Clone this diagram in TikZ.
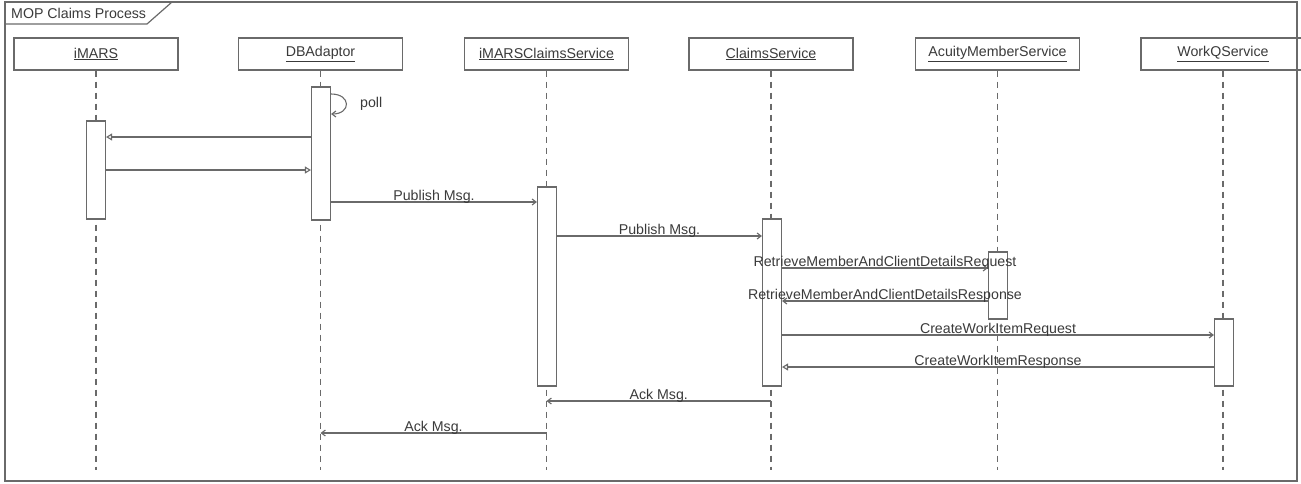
\documentclass[tikz,border=0pt]{standalone}
\usepackage{fontspec}
\setmainfont{Liberation Sans}
\usetikzlibrary{arrows.meta}
\definecolor{ln}{HTML}{6A6A6A}
\definecolor{tx}{HTML}{3A3A3A}
\begin{document}
\begin{tikzpicture}[x=1pt,y=-1pt,
  font=\fontsize{14.2}{16}\selectfont,
  every node/.style={text=tx},
  head/.style={draw=ln, line width=1.2pt, minimum width=164pt, minimum height=32pt, inner sep=0pt},
  actbar/.style={draw=ln, line width=1.1pt, fill=white, minimum width=19pt, inner sep=0pt},
  life/.style={draw=ln, line width=1.1pt, dash pattern=on 6pt off 5pt},
  msg/.style={draw=ln, line width=1.1pt, -{Straight Barb[length=4pt,width=6pt]}},
  reply/.style={draw=ln, line width=1.1pt, -{Triangle[open,length=6pt,width=7pt]}},
  lbl/.style={anchor=base, yshift=1.5pt, inner sep=0pt}]
\useasboundingbox (0,0) rectangle (1301,483);

% frame with its name tag
\draw[ln, line width=1.2pt] (5,2) rectangle (1297,481);
\draw[ln, line width=1.2pt] (5,24) -- (147,24) -- (172,2);
\node[anchor=west, inner sep=0pt] (title) at (11,13) {MOP Claims Process};

% lifeline heads
\node[head] (imars)  at (96,54)   {\underline{iMARS}};
\node[head] (dba)    at (320.5,54) {\underline{DBAdaptor}};
\node[head] (ics)    at (546.5,54) {\underline{iMARSClaimsService}};
\node[head] (cls)    at (771,54)  {\underline{ClaimsService}};
\node[head] (ams)    at (997.5,54) {\underline{AcuityMemberService}};
\node[head] (wqs)    at (1223,54) {\underline{WorkQService}};

% dashed lifelines
\foreach \h in {imars,dba,ics,cls,ams,wqs}
  \draw[life] (\h.south) -- (\h |- 0,470);

% activation bars
\node[actbar, minimum height=98pt]  (a1) at (96,170)    {};
\node[actbar, minimum height=133pt] (a2) at (321,153.5) {};
\node[actbar, minimum height=199pt] (a3) at (547,286.5) {};
\node[actbar, minimum height=167pt] (a4) at (772,302.5) {};
\node[actbar, minimum height=67pt]  (a5) at (998,285.5) {};
\node[actbar, minimum height=67pt]  (a6) at (1224,352.5){};

% self call
\draw[msg] (a2.east |- 0,94) to[out=0, in=0, looseness=2.6] (a2.east |- 0,114);
\node[anchor=west, inner sep=0pt] (poll) at (360,104) {poll};

% messages
\draw[reply] (a2.west |- 0,137) -- (a1.east |- 0,137);
\draw[reply] (a1.east |- 0,170) -- (a2.west |- 0,170);
\draw[msg] (a2.east |- 0,202) -- node[lbl] {Publish Msg.} (a3.west |- 0,202);
\draw[msg] (a3.east |- 0,236) -- node[lbl] {Publish Msg.} (a4.west |- 0,236);
\draw[msg] (a4.east |- 0,268) -- node[lbl] {RetrieveMemberAndClientDetailsRequest} (a5.west |- 0,268);
\draw[msg] (a5.west |- 0,301) -- node[lbl] {RetrieveMemberAndClientDetailsResponse} (a4.east |- 0,301);
\draw[msg] (a4.east |- 0,335) -- node[lbl] {CreateWorkItemRequest} (a6.west |- 0,335);
\draw[reply] (a6.west |- 0,367) -- node[lbl] {CreateWorkItemResponse} (a4.east |- 0,367);
\draw[msg] (cls |- 0,401) -- node[lbl] {Ack Msg.} (ics |- 0,401);
\draw[msg] (ics |- 0,433) -- node[lbl] {Ack Msg.} (dba |- 0,433);
\end{tikzpicture}
\end{document}
